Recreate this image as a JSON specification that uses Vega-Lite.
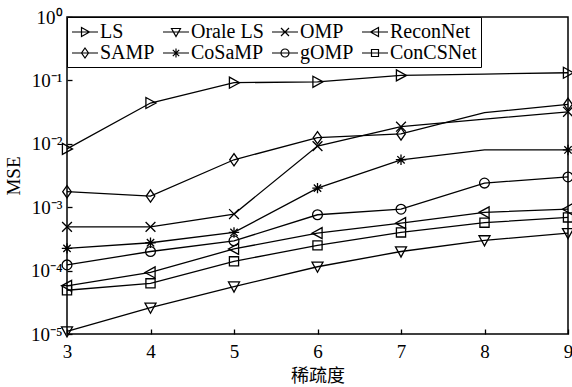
{
  "$schema": "https://vega.github.io/schema/vega-lite/v6.json",
  "width": 501,
  "height": 317,
  "autosize": {"type": "none"},
  "padding": {"left": 67, "top": 17, "right": 4, "bottom": 53},
  "background": "white",
  "config": {
    "view": {"stroke": "black", "strokeWidth": 1.5},
    "axis": {"grid": false, "domain": false, "tickColor": "black", "tickWidth": 1.3, "tickSize": -5, "labelColor": "black", "titleColor": "black", "labelFont": "Liberation Serif", "titleFont": "Liberation Serif", "labelFontSize": 19, "titleFontWeight": "normal"}
  },
  "data": {
    "values": [
      {"k": 3, "method": "LS", "mse": 0.0083},
      {"k": 4, "method": "LS", "mse": 0.044},
      {"k": 5, "method": "LS", "mse": 0.092},
      {"k": 6, "method": "LS", "mse": 0.095},
      {"k": 7, "method": "LS", "mse": 0.12},
      {"k": 8, "method": "LS", "mse": 0.126},
      {"k": 9, "method": "LS", "mse": 0.132},
      {"k": 3, "method": "Orale LS", "mse": 0.000011},
      {"k": 4, "method": "Orale LS", "mse": 0.000026},
      {"k": 5, "method": "Orale LS", "mse": 0.000056},
      {"k": 6, "method": "Orale LS", "mse": 0.000115},
      {"k": 7, "method": "Orale LS", "mse": 0.0002},
      {"k": 8, "method": "Orale LS", "mse": 0.0003},
      {"k": 9, "method": "Orale LS", "mse": 0.00039},
      {"k": 3, "method": "OMP", "mse": 0.00049},
      {"k": 4, "method": "OMP", "mse": 0.00049},
      {"k": 5, "method": "OMP", "mse": 0.00078},
      {"k": 6, "method": "OMP", "mse": 0.0092},
      {"k": 7, "method": "OMP", "mse": 0.0186},
      {"k": 8, "method": "OMP", "mse": 0.0245},
      {"k": 9, "method": "OMP", "mse": 0.032},
      {"k": 3, "method": "ReconNet", "mse": 0.0000575},
      {"k": 4, "method": "ReconNet", "mse": 0.0000935},
      {"k": 5, "method": "ReconNet", "mse": 0.00022},
      {"k": 6, "method": "ReconNet", "mse": 0.00039},
      {"k": 7, "method": "ReconNet", "mse": 0.00056},
      {"k": 8, "method": "ReconNet", "mse": 0.00083},
      {"k": 9, "method": "ReconNet", "mse": 0.00093},
      {"k": 3, "method": "SAMP", "mse": 0.00176},
      {"k": 4, "method": "SAMP", "mse": 0.0015},
      {"k": 5, "method": "SAMP", "mse": 0.0056},
      {"k": 6, "method": "SAMP", "mse": 0.0125},
      {"k": 7, "method": "SAMP", "mse": 0.0143},
      {"k": 8, "method": "SAMP", "mse": 0.031},
      {"k": 9, "method": "SAMP", "mse": 0.042},
      {"k": 3, "method": "CoSaMP", "mse": 0.000224},
      {"k": 4, "method": "CoSaMP", "mse": 0.000275},
      {"k": 5, "method": "CoSaMP", "mse": 0.0004},
      {"k": 6, "method": "CoSaMP", "mse": 0.002},
      {"k": 7, "method": "CoSaMP", "mse": 0.0056},
      {"k": 8, "method": "CoSaMP", "mse": 0.008},
      {"k": 9, "method": "CoSaMP", "mse": 0.008},
      {"k": 3, "method": "gOMP", "mse": 0.000123},
      {"k": 4, "method": "gOMP", "mse": 0.0002},
      {"k": 5, "method": "gOMP", "mse": 0.000295},
      {"k": 6, "method": "gOMP", "mse": 0.00076},
      {"k": 7, "method": "gOMP", "mse": 0.00093},
      {"k": 8, "method": "gOMP", "mse": 0.0024},
      {"k": 9, "method": "gOMP", "mse": 0.003},
      {"k": 3, "method": "ConCSNet", "mse": 0.000049},
      {"k": 4, "method": "ConCSNet", "mse": 0.000063},
      {"k": 5, "method": "ConCSNet", "mse": 0.00014},
      {"k": 6, "method": "ConCSNet", "mse": 0.00025},
      {"k": 7, "method": "ConCSNet", "mse": 0.0004},
      {"k": 8, "method": "ConCSNet", "mse": 0.00057},
      {"k": 9, "method": "ConCSNet", "mse": 0.00069}
    ]
  },
  "encoding": {
    "x": {
      "field": "k", "type": "quantitative",
      "scale": {"domain": [3, 9], "nice": false, "zero": false},
      "axis": {"values": [3, 4, 5, 6, 7, 8, 9], "title": "稀疏度", "titleFont": "Noto Sans CJK SC", "titleFontSize": 18, "labelPadding": 13, "titlePadding": 6, "labelFlush": false}
    },
    "y": {
      "field": "mse", "type": "quantitative",
      "scale": {"type": "log", "domain": [0.00001, 1], "nice": false},
      "axis": {"values": [0.00001, 0.0001, 0.001, 0.01, 0.1, 1], "title": "MSE", "titleFontSize": 19, "labelPadding": 10, "titlePadding": 7, "labelFlush": false,
        "labelExpr": "'10' + (datum.value >= 0.9 ? '⁰' : datum.value >= 0.09 ? '⁻¹' : datum.value >= 0.009 ? '⁻²' : datum.value >= 0.0009 ? '⁻³' : datum.value >= 0.00009 ? '⁻⁴' : '⁻⁵')"}
    }
  },
  "layer": [
    {
      "mark": {"type": "line", "color": "black", "strokeWidth": 1.3},
      "encoding": {"detail": {"field": "method"}}
    },
    {
      "transform": [{"filter": "!(datum.k == 8 && (datum.method == 'LS' || datum.method == 'SAMP' || datum.method == 'OMP' || datum.method == 'CoSaMP'))"}],
      "mark": {"type": "point", "filled": false, "color": "black", "strokeWidth": 1.3, "size": 150, "opacity": 1},
      "encoding": {
        "shape": {
          "field": "method", "type": "nominal", "legend": null,
          "scale": {
            "domain": ["LS", "Orale LS", "OMP", "ReconNet", "SAMP", "CoSaMP", "gOMP", "ConCSNet"],
            "range": [
              "M-0.75,-0.9L0.9,0L-0.75,0.9Z",
              "M-0.9,-0.75L0.9,-0.75L0,0.9Z",
              "M-0.8,-0.8L0.8,0.8M-0.8,0.8L0.8,-0.8",
              "M0.75,-0.9L-0.9,0L0.75,0.9Z",
              "M0,-1L0.7,0L0,1L-0.7,0Z",
              "M-0.85,0H0.85M0,-0.85V0.85M-0.6,-0.6L0.6,0.6M-0.6,0.6L0.6,-0.6",
              "M-0.8,0A0.8,0.8,0,1,0,0.8,0A0.8,0.8,0,1,0,-0.8,0Z",
              "M-0.75,-0.75H0.75V0.75H-0.75Z"
            ]
          }
        }
      }
    },
    {
      "mark": {"type": "point", "filled": false, "color": "black", "strokeWidth": 1.2, "size": 150, "opacity": 0},
      "encoding": {
        "shape": {
          "field": "method", "type": "nominal",
          "scale": {
            "domain": ["LS", "Orale LS", "OMP", "ReconNet", "SAMP", "CoSaMP", "gOMP", "ConCSNet"],
            "range": [
              "M-1.3,0H1.3M-0.35,-0.45L0.45,0L-0.35,0.45Z",
              "M-1.3,0H1.3M-0.45,-0.35L0.45,-0.35L0,0.45Z",
              "M-1.3,0H1.3M-0.4,-0.4L0.4,0.4M-0.4,0.4L0.4,-0.4",
              "M-1.3,0H1.3M0.35,-0.45L-0.45,0L0.35,0.45Z",
              "M-1.3,0H1.3M0,-0.5L0.35,0L0,0.5L-0.35,0Z",
              "M-1.3,0H1.3M0,-0.45V0.45M-0.32,-0.32L0.32,0.32M-0.32,0.32L0.32,-0.32",
              "M-1.3,0H1.3M-0.4,0A0.4,0.4,0,1,0,0.4,0A0.4,0.4,0,1,0,-0.4,0Z",
              "M-1.3,0H1.3M-0.35,-0.35H0.35V0.35H-0.35Z"
            ]
          },
          "legend": {
            "title": null,
            "orient": "none",
            "direction": "horizontal",
            "legendX": 0,
            "legendY": 0,
            "columns": 4,
            "columnPadding": 5,
            "rowPadding": 0,
            "padding": 4,
            "fillColor": "white",
            "strokeColor": "black",
            "symbolSize": 400,
            "symbolOffset": 3,
            "symbolOpacity": 1,
            "symbolStrokeColor": "black",
            "symbolStrokeWidth": 1.2,
            "symbolFillColor": "transparent",
            "labelFont": "Liberation Serif",
            "labelFontSize": 20,
            "labelColor": "black",
            "labelOffset": 4
          }
        }
      }
    }
  ],
  "resolve": {"scale": {"shape": "independent"}, "legend": {"shape": "independent"}}
}
